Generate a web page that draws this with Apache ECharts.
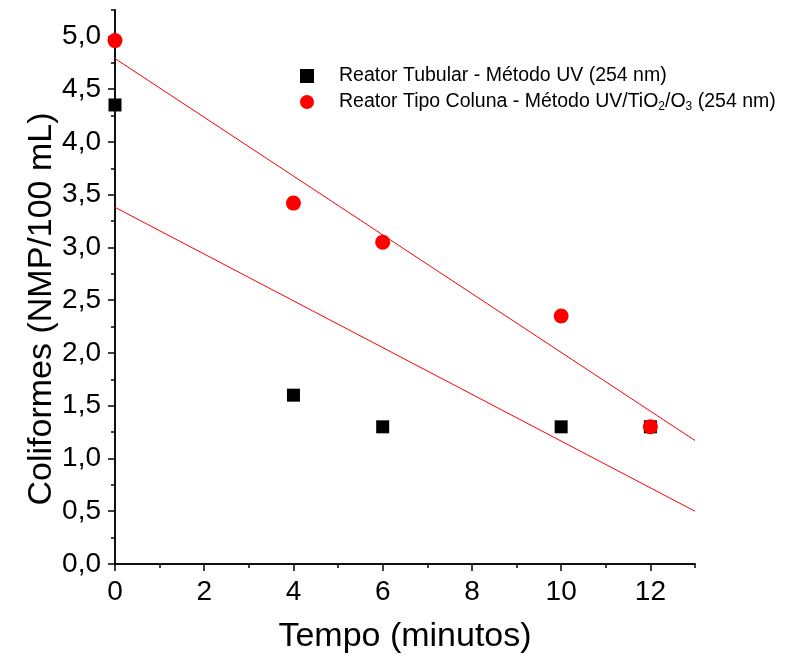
<!DOCTYPE html>
<html>
<head>
<meta charset="utf-8">
<script src="https://cdn.jsdelivr.net/npm/echarts@6/dist/echarts.min.js"></script>
<style>
html,body{margin:0;padding:0;background:#fff;}
#chart{width:787px;height:663px;}
</style>
</head>
<body>
<div id="chart"></div>
<script>
// ---- data ----
var tempo = [0, 4, 6, 10, 12];
var tubular = [4.35, 1.60, 1.30, 1.30, 1.30];
var coluna = [4.96, 3.42, 3.05, 2.35, 1.30];
var fitX = [0, 13];
var fitColuna = [4.79, 1.17];
var fitTubular = [3.38, 0.50];
var xMajor = [0, 2, 4, 6, 8, 10, 12];
var xMinor = [1, 3, 5, 7, 9, 11, 13];
var yMajor = [0, 0.5, 1, 1.5, 2, 2.5, 3, 3.5, 4, 4.5, 5];
var yMinor = [0.25, 0.75, 1.25, 1.75, 2.25, 2.75, 3.25, 3.75, 4.25, 4.75, 5.25];
var nameTubular = 'Reator Tubular - Método UV (254 nm)';
var nameColuna = 'Reator Tipo Coluna - Método UV/TiO2/O3 (254 nm)';

function zip(xs, ys) { return xs.map(function (x, i) { return [x, ys[i]]; }); }

var FONT = '"Liberation Sans", Arial, sans-serif';
var axisLineStyle = { color: '#000', width: 1.5 };

var chart = echarts.init(document.getElementById('chart'), null, { renderer: 'canvas' });
chart.setOption({
  backgroundColor: '#fff',
  animation: false,
  textStyle: { fontFamily: FONT },
  grid: { left: 115, right: 92, top: 10, bottom: 99, containLabel: false, outerBoundsMode: 'none' },
  legend: {
    orient: 'vertical',
    left: 295,
    top: 61,
    itemWidth: 14,
    itemHeight: 14,
    itemGap: 6,
    data: [
      { name: nameTubular, icon: 'rect' },
      { name: nameColuna, icon: 'circle' }
    ],
    formatter: function (name) {
      if (name === nameColuna) {
        return '{t|Reator Tipo Coluna - Método UV/TiO}{s|2}{t|/O}{s|3}{t| (254 nm)}';
      }
      return '{t|' + name + '}';
    },
    textStyle: {
      padding: [0, 0, 0, 20],
      rich: {
        t: { fontSize: 19.5, fontFamily: FONT, color: '#000', lineHeight: 22 },
        s: { fontSize: 12, fontFamily: FONT, color: '#000', lineHeight: 6, verticalAlign: 'bottom' }
      }
    }
  },
  xAxis: [{
    type: 'value', min: 0, max: 13,
    position: 'bottom',
    name: 'Tempo (minutos)', nameLocation: 'middle', nameGap: 56, nameMoveOverlap: false,
    nameTextStyle: { fontSize: 34, color: '#000', fontFamily: FONT },
    axisLine: { show: true, onZero: false, lineStyle: axisLineStyle },
    axisTick: { show: true, customValues: xMajor, length: 7, lineStyle: axisLineStyle },
    axisLabel: { customValues: xMajor, fontSize: 28, color: '#000', margin: 14, fontFamily: FONT },
    splitLine: { show: false }
  }, {
    type: 'value', min: 0, max: 13,
    position: 'bottom',
    axisLine: { show: true, onZero: false, lineStyle: axisLineStyle },
    axisTick: { show: true, customValues: xMinor, length: 4, lineStyle: axisLineStyle },
    axisLabel: { show: false },
    splitLine: { show: false }
  }],
  yAxis: [{
    type: 'value', min: 0, max: 5.25,
    position: 'left',
    name: 'Coliformes (NMP/100 mL)', nameLocation: 'middle', nameGap: 56, nameMoveOverlap: false,
    nameTextStyle: { fontSize: 34, color: '#000', fontFamily: FONT, padding: [0, 44, 0, 0] },
    axisLine: { show: true, onZero: false, lineStyle: axisLineStyle },
    axisTick: { show: true, customValues: yMajor, length: 7, lineStyle: axisLineStyle },
    axisLabel: {
      customValues: yMajor, fontSize: 28, color: '#000', margin: 14, fontFamily: FONT,
      formatter: function (v) { return v.toFixed(1).replace('.', ','); }
    },
    splitLine: { show: false }
  }, {
    type: 'value', min: 0, max: 5.25,
    position: 'left',
    axisLine: { show: true, onZero: false, lineStyle: axisLineStyle },
    axisTick: { show: true, customValues: yMinor, length: 4, lineStyle: axisLineStyle },
    axisLabel: { show: false },
    splitLine: { show: false }
  }],
  series: [
    {
      name: 'fitTubular', type: 'line', data: zip(fitX, fitTubular),
      showSymbol: false, symbol: 'none', silent: true,
      lineStyle: { color: '#ff0000', width: 1 }, itemStyle: { color: '#ff0000' }, z: 1
    },
    {
      name: 'fitColuna', type: 'line', data: zip(fitX, fitColuna),
      showSymbol: false, symbol: 'none', silent: true,
      lineStyle: { color: '#ff0000', width: 1 }, itemStyle: { color: '#ff0000' }, z: 1
    },
    {
      name: nameTubular, type: 'scatter', data: zip(tempo, tubular),
      symbol: 'rect', symbolSize: 13, itemStyle: { color: '#000', opacity: 1 }, z: 3
    },
    {
      name: nameColuna, type: 'scatter', data: zip(tempo, coluna),
      symbol: 'circle', symbolSize: 15, itemStyle: { color: '#ff0000', opacity: 1 }, z: 4
    }
  ]
});
</script>
</body>
</html>
